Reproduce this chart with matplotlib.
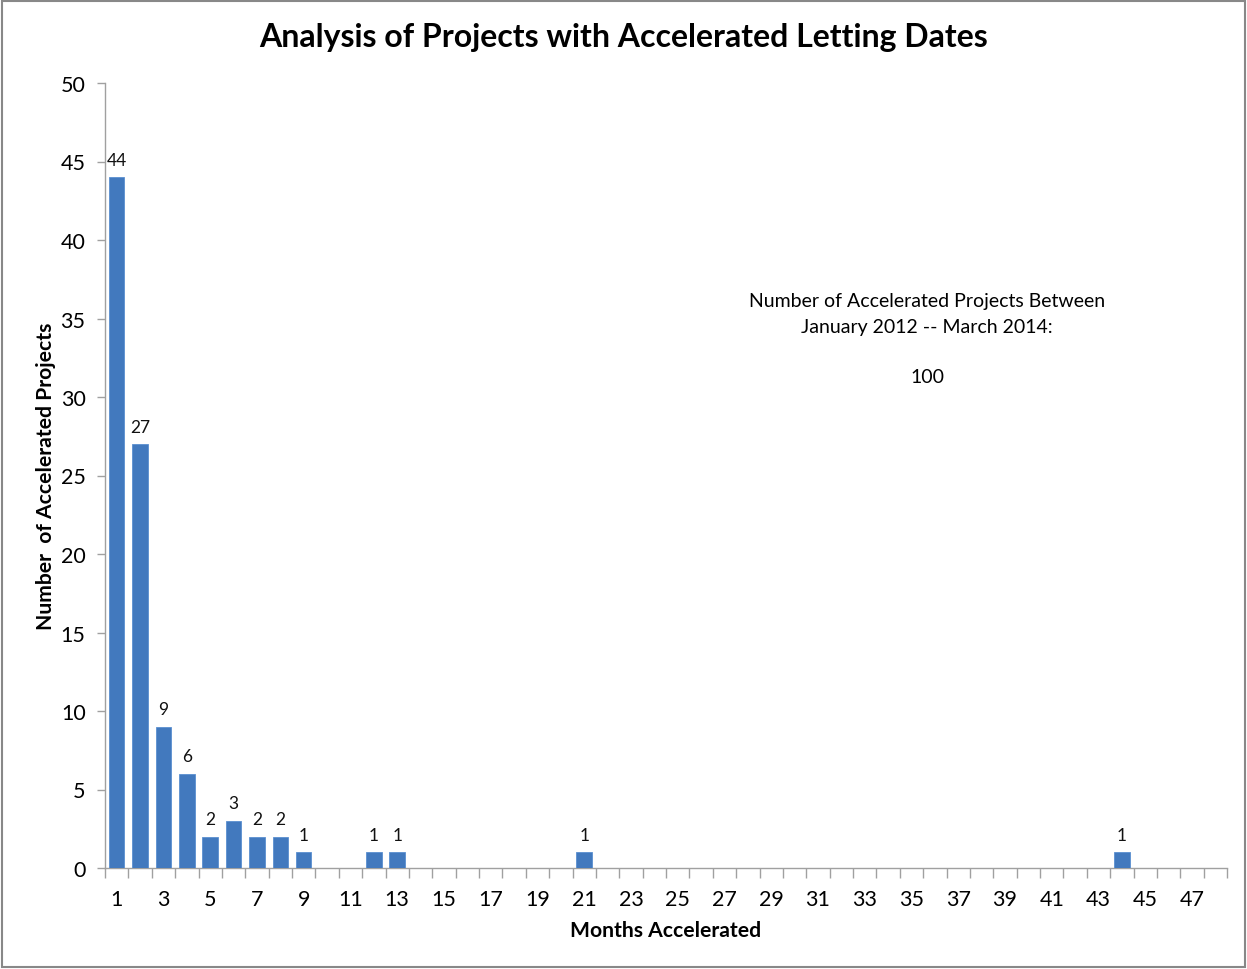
import matplotlib
matplotlib.use("Agg")
import matplotlib.pyplot as plt
from matplotlib.patches import Rectangle

months = list(range(1, 49))
counts = [44, 27, 9, 6, 2, 3, 2, 2, 1, 0, 0, 1, 1, 0, 0, 0, 0, 0, 0, 0,
          1, 0, 0, 0, 0, 0, 0, 0, 0, 0, 0, 0, 0, 0, 0, 0, 0, 0, 0, 0,
          0, 0, 0, 1, 0, 0, 0, 0]
tick_labels = [str(m) for m in range(1, 49, 2)]
title = "Analysis of Projects with Accelerated Letting Dates"
note_lines = ["Number of Accelerated Projects Between", "January 2012 -- March 2014:", "", "100"]

plt.rcParams['font.family'] = ['Lato', 'DejaVu Sans']

fig = plt.figure(figsize=(12.47, 9.70), dpi=100)
ax = fig.add_axes([105/1247, 101/970, 1122/1247, 785/970])

bar_color = "#4279BE"
ax.bar(months, counts, width=0.66, color=bar_color, edgecolor="#5a8fd0", linewidth=0.6, zorder=3)

for m, c in zip(months, counts):
    if c > 0:
        ax.text(m, c + 0.6, str(c), ha="center", va="bottom", fontsize=12.5, color="#111111")

ax.set_xlim(0.5, 48.5)
ax.set_ylim(0, 50)
ax.set_yticks(range(0, 51, 5))
ax.tick_params(axis="y", labelsize=15.5, length=6, color="#a0a0a0", pad=8, width=1)

ax.set_xticks([m + 0.5 for m in range(0, 49)])
ax.set_xticklabels([])
ax.tick_params(axis="x", which="major", length=7, color="#a0a0a0", direction="out", width=1)
ax.set_xticks(list(range(1, 49, 2)), minor=True)
ax.set_xticklabels(tick_labels, minor=True)
ax.tick_params(axis="x", which="minor", length=0, labelsize=15.5, pad=15)

for s in ["top", "right"]:
    ax.spines[s].set_visible(False)
for s in ["left", "bottom"]:
    ax.spines[s].set_color("#a0a0a0")
    ax.spines[s].set_linewidth(1)

ax.set_xlabel("Months Accelerated", fontsize=15.2, fontweight="bold", labelpad=8)
ax.set_ylabel("Number  of Accelerated Projects", fontsize=15.2, fontweight="bold", labelpad=3)
fig.text(0.5, 1 - 38/970, title, ha="center", va="center", fontsize=23, fontweight="bold")

ys = [301, 327, 353, 378]
for line, y in zip(note_lines, ys):
    if line:
        fig.text(927/1247, 1 - y/970, line, ha="center", va="center", fontsize=14)

fig.patches.append(Rectangle((0.0015, 0.002), 0.997, 0.996, transform=fig.transFigure,
                             fill=False, edgecolor="#888888", linewidth=1.5))

fig.savefig("out.png", dpi=100)
